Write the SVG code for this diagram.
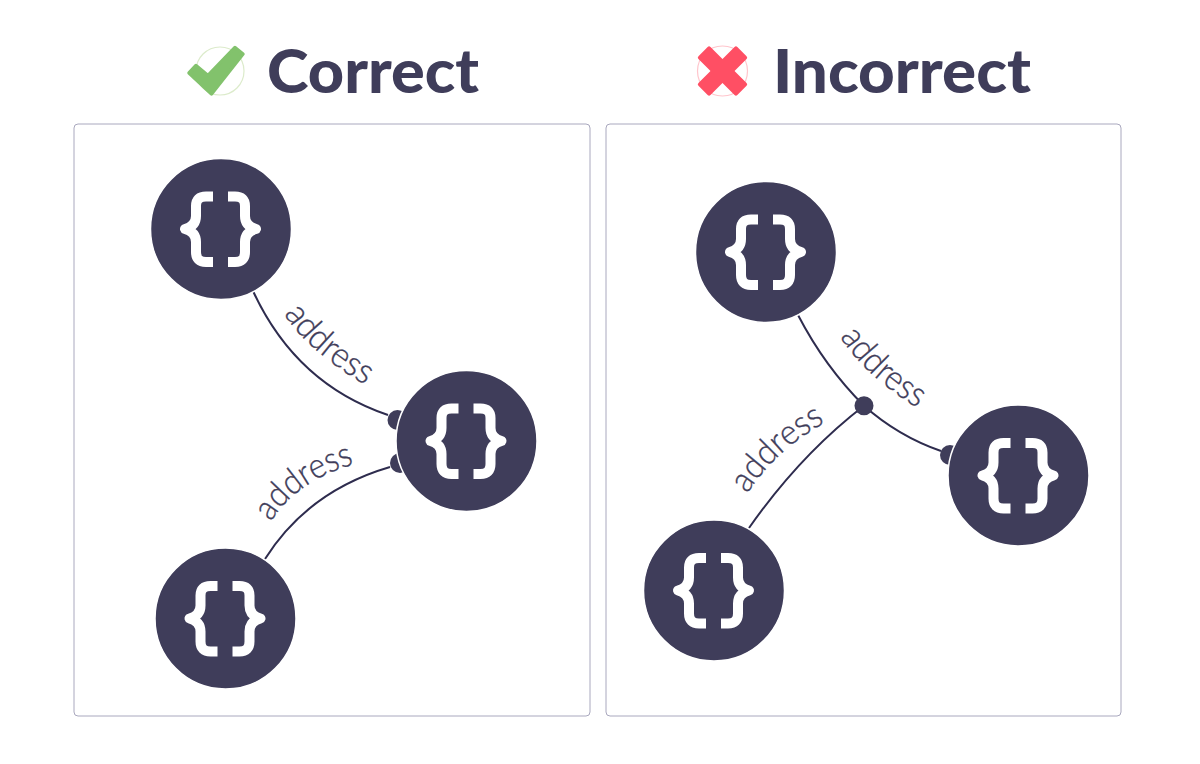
<svg xmlns="http://www.w3.org/2000/svg" width="1200" height="764" viewBox="0 0 1200 764">
<style>
.panel{fill:#fff;stroke:#a9a8be;stroke-width:1}
.title{font-family:"Lato","Liberation Sans",sans-serif;font-weight:900;font-size:60px;fill:#3f3d5a}
.label{font-family:"Lato","Liberation Sans",sans-serif;font-weight:300;font-size:35px;fill:#3f3d5a;stroke:#3f3d5a;stroke-width:.35}
.edge{fill:none;stroke:#2e2c4e;stroke-width:2}
.dot{fill:#3f3d5a}
.node{fill:#3f3d5a;stroke:#fff;stroke-width:1.5}
.brace{fill:none;stroke:#fff;stroke-width:10;stroke-linejoin:round}
</style>
<defs>
<g id="icon">
<circle class="node" r="70.5"/>
<path class="brace" d="M-8,-32.500H-15Q-25,-32.500-25,-23V-13Q-25,-3-36,0Q-25,3-25,13V23Q-25,33-15,33H-8"/>
<path class="brace" d="M7,-32.500H14Q24,-32.500 24,-23V-13Q24,-3 35,0Q24,3 24,13V23Q24,33 14,33H7"/>
</g>
<path id="p1" d="M284,314Q309,353 372,389"/>
<path id="p2" d="M271,522Q297,479 362,462"/>
<path id="p3" d="M840,337Q870,382 928,414"/>
<path id="p4" d="M747,494Q778,447 830,420"/>
</defs>
<rect width="1200" height="764" fill="#fff"/>
<g id="correct-heading">
<circle cx="220" cy="71" r="24" fill="none" stroke="#dcebcb" stroke-width="1.2"/>
<path d="M189,73L196,65.500L208,75.500L235,47.500L243,54L211.500,94Z" fill="#82c26c" stroke="#82c26c" stroke-width="3.500" stroke-linejoin="round"/>
<text class="title" x="267" y="92.500" textLength="212" lengthAdjust="spacingAndGlyphs">Correct</text>
</g>
<g id="incorrect-heading">
<circle cx="722.500" cy="71" r="25" fill="none" stroke="#ffc5cc" stroke-width="1.2"/>
<g transform="translate(722.500 71) rotate(45)" fill="#ff4f64">
<rect x="-27.500" y="-8.500" width="55" height="17" rx="2"/>
<rect x="-8.500" y="-27.500" width="17" height="55" rx="2"/>
</g>
<text class="title" x="773" y="92.500" textLength="258" lengthAdjust="spacingAndGlyphs">Incorrect</text>
</g>
<rect id="panel-correct" class="panel" x="74" y="124" width="516" height="592" rx="4"/>
<rect id="panel-incorrect" class="panel" x="606" y="124" width="515" height="592" rx="4"/>
<g id="connectors">
<path class="edge" d="M253,291Q296,384 388,415"/>
<path class="edge" d="M265,559Q308,491 390,467"/>
<circle class="dot" cx="397.500" cy="420" r="10"/>
<circle class="dot" cx="400" cy="463" r="10"/>
<path class="edge" d="M798,315Q825,367 864,405.700"/>
<path class="edge" d="M864,405.700Q898,436 941,451"/>
<path class="edge" d="M749,528Q800,455 864,405.700"/>
<circle class="dot" cx="864" cy="405.700" r="9.500"/>
<circle class="dot" cx="950" cy="455" r="10"/>
</g>
<g id="edge-labels">
<text class="label"><textPath href="#p1" textLength="109" lengthAdjust="spacingAndGlyphs">address</textPath></text>
<text class="label"><textPath href="#p2" textLength="104" lengthAdjust="spacingAndGlyphs">address</textPath></text>
<text class="label"><textPath href="#p3" textLength="106" lengthAdjust="spacingAndGlyphs">address</textPath></text>
<text class="label"><textPath href="#p4" textLength="107" lengthAdjust="spacingAndGlyphs">address</textPath></text>
</g>
<use id="node-c1" href="#icon" x="221" y="229"/>
<use id="node-c2" href="#icon" x="466.500" y="441"/>
<use id="node-c3" href="#icon" x="225.500" y="618.500"/>
<use id="node-i1" href="#icon" x="766" y="252"/>
<use id="node-i2" href="#icon" x="1018.500" y="475.500"/>
<use id="node-i3" href="#icon" x="714" y="590.500"/>
</svg>
